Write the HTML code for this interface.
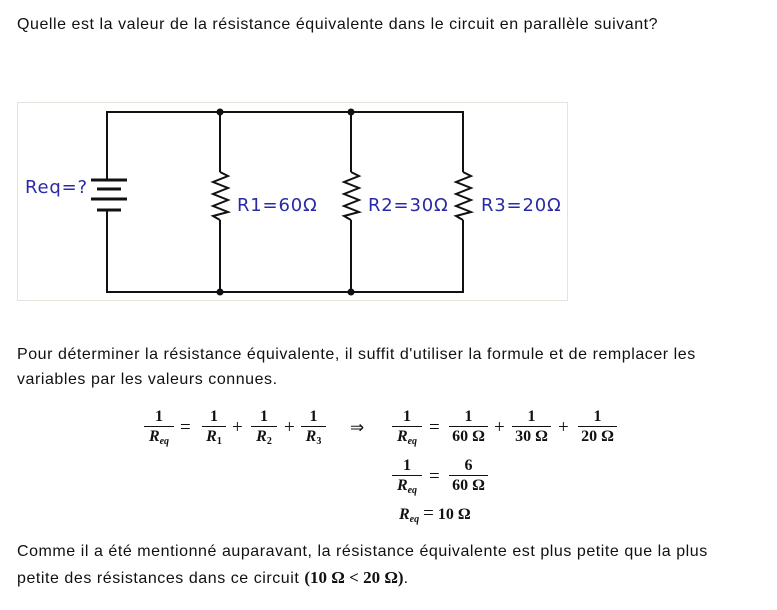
<!DOCTYPE html>
<html><head><meta charset="utf-8"><style>
body{margin:0;width:777px;height:610px;background:#fff;position:relative;overflow:hidden;font-family:"Liberation Sans",sans-serif;color:#111;font-size:16px;letter-spacing:0.55px}
.t{position:absolute;left:17px;white-space:nowrap}
.m{position:absolute;font-family:"Liberation Serif",serif;font-weight:bold;font-size:16px;white-space:nowrap;letter-spacing:0}
.f{position:absolute;text-align:center;font-family:"Liberation Serif",serif;font-weight:bold;font-size:16px;letter-spacing:0}
.f .n{display:block;line-height:18px;border-bottom:1px solid #111;padding:0 1px}
.f .d{display:block;line-height:19px}
i{font-style:italic}
sub{font-size:10px;vertical-align:-3px}
</style></head><body>
<div class="t" style="top:16px">Quelle est la valeur de la résistance équivalente dans le circuit en parallèle suivant?</div>

<svg style="position:absolute;left:0;top:0" width="777" height="610">
<rect x="17.5" y="102.5" width="550" height="198" fill="#fff" stroke="#e6e2dc"/>
<g stroke="#111" stroke-width="2" fill="none">
<polyline points="107,180 107,112 463,112 463,172"/>
<polyline points="107,210 107,292 463,292 463,220"/>
<line x1="220" y1="112" x2="220" y2="172"/><line x1="220" y1="220" x2="220" y2="292"/>
<line x1="351" y1="112" x2="351" y2="172"/><line x1="351" y1="220" x2="351" y2="292"/>
<polyline points="220,172 228,176 213,182 228,188 213,194 228,200 213,206 228,212 213,216 220,220"/>
<polyline points="351,172 359,176 344,182 359,188 344,194 359,200 344,206 359,212 344,216 351,220"/>
<polyline points="463,172 471,176 456,182 471,188 456,194 471,200 456,206 471,212 456,216 463,220"/>
</g>
<g stroke="#111" stroke-width="3">
<line x1="91" y1="180" x2="127" y2="180"/>
<line x1="97" y1="189" x2="121" y2="189"/>
<line x1="91" y1="199" x2="127" y2="199"/>
<line x1="97" y1="210" x2="121" y2="210"/>
</g>
<g fill="#111"><circle cx="220" cy="112" r="3.5"/><circle cx="351" cy="112" r="3.5"/><circle cx="220" cy="292" r="3.5"/><circle cx="351" cy="292" r="3.5"/></g>
<g fill="#2a2aa8" font-family="DejaVu Sans, sans-serif" font-size="18" letter-spacing="0.8">
<text x="25" y="193">Req=?</text>
<text x="237" y="211">R1=60Ω</text>
<text x="368" y="211">R2=30Ω</text>
<text x="481" y="211">R3=20Ω</text>
</g>
</svg>

<div class="t" style="top:346px">Pour déterminer la résistance équivalente, il suffit d'utiliser la formule et de remplacer les</div>
<div class="t" style="top:371px">variables par les valeurs connues.</div>

<div class="f" style="left:144px;top:408px;width:30px"><span class="n">1</span><span class="d"><i>R<sub>eq</sub></i></span></div>
<div class="m" style="left:180px;top:417px;font-weight:normal;font-size:19px">=</div>
<div class="f" style="left:202px;top:408px;width:24px"><span class="n">1</span><span class="d"><i>R</i><sub>1</sub></span></div>
<div class="m" style="left:232px;top:417px;font-weight:normal;font-size:19px">+</div>
<div class="f" style="left:251px;top:408px;width:26px"><span class="n">1</span><span class="d"><i>R</i><sub>2</sub></span></div>
<div class="m" style="left:284px;top:417px;font-weight:normal;font-size:19px">+</div>
<div class="f" style="left:301px;top:408px;width:25px"><span class="n">1</span><span class="d"><i>R</i><sub>3</sub></span></div>
<div class="m" style="left:350px;top:418px;font-weight:normal;font-size:17px">⇒</div>
<div class="f" style="left:392px;top:408px;width:30px"><span class="n">1</span><span class="d"><i>R<sub>eq</sub></i></span></div>
<div class="m" style="left:429px;top:417px;font-weight:normal;font-size:19px">=</div>
<div class="f" style="left:449px;top:408px;width:39px"><span class="n">1</span><span class="d">60 Ω</span></div>
<div class="m" style="left:494px;top:417px;font-weight:normal;font-size:19px">+</div>
<div class="f" style="left:512px;top:408px;width:39px"><span class="n">1</span><span class="d">30 Ω</span></div>
<div class="m" style="left:558px;top:417px;font-weight:normal;font-size:19px">+</div>
<div class="f" style="left:578px;top:408px;width:39px"><span class="n">1</span><span class="d">20 Ω</span></div>

<div class="f" style="left:392px;top:457px;width:30px"><span class="n">1</span><span class="d"><i>R<sub>eq</sub></i></span></div>
<div class="m" style="left:429px;top:466px;font-weight:normal;font-size:19px">=</div>
<div class="f" style="left:449px;top:457px;width:39px"><span class="n">6</span><span class="d">60 Ω</span></div>

<div class="m" style="left:399px;top:503px"><i>R<sub>eq</sub></i> <span style="font-weight:normal;font-size:19px">=</span> 10 Ω</div>

<div class="t" style="top:543px">Comme il a été mentionné auparavant, la résistance équivalente est plus petite que la plus</div>
<div class="t" style="top:568px">petite des résistances dans ce circuit <span style="font-family:'Liberation Serif',serif;font-weight:bold;font-size:17px;letter-spacing:0">(10 Ω &lt; 20 Ω)</span>.</div>
</body></html>
